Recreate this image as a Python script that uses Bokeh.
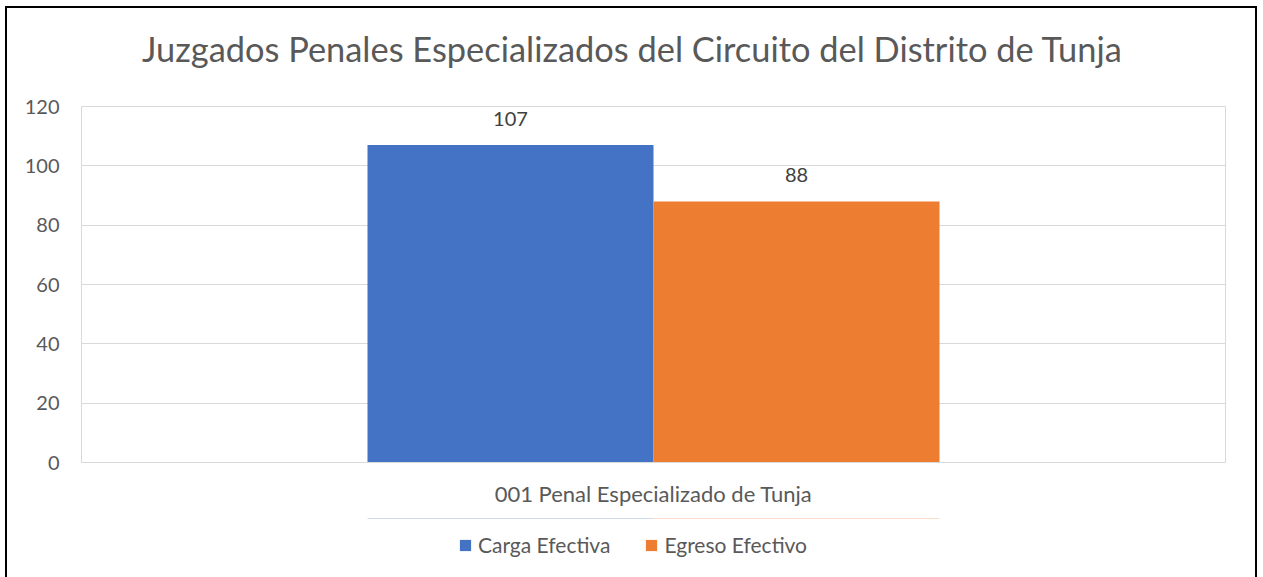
from bokeh.plotting import figure
from bokeh.models import (ColumnDataSource, FactorRange, Range1d, Legend, LegendItem, FixedTicker,
                          Label)
from bokeh.core.properties import value
from bokeh.layouts import column
from bokeh.transform import dodge
from bokeh.embed import file_html
from bokeh.resources import INLINE

title_text = "Juzgados Penales Especializados del Circuito del Distrito de Tunja"
categories = ["001 Penal Especializado de Tunja"]
carga = [107]
egreso = [88]
series_names = ["Carga Efectiva", "Egreso Efectivo"]
colors = ["#4472C4", "#ED7D31"]
y_ticks = [0, 20, 40, 60, 80, 100, 120]

FONT = "Lato"
TXT = "#595959"
W = 1248
TH = 86  # title strip height

src = ColumnDataSource(dict(cat=categories, carga=carga, egreso=egreso,
                            carga_lbl=[str(v) for v in carga],
                            egreso_lbl=[str(v) for v in egreso]))

# title strip
pt = figure(width=W, height=TH, x_range=Range1d(0, W), y_range=Range1d(0, TH),
            output_backend="svg", toolbar_location=None, min_border=0,
            x_axis_type=None, y_axis_type=None)
pt.grid.visible = False
pt.outline_line_color = None
pt.add_layout(Label(x=601, y=46, text=title_text, text_align="center",
                    text_baseline="alphabetic", text_font=FONT, text_font_size="34.4px",
                    text_color=TXT))

# main chart
p = figure(width=W, height=424, x_range=FactorRange(factors=categories, range_padding=0),
           y_range=Range1d(0, 120), output_backend="svg", toolbar_location=None,
           min_border_left=74, min_border_right=W - 74 - 1144, min_border_top=12, min_border_bottom=56)

r1 = p.vbar(x=dodge("cat", -0.125, range=p.x_range), top="carga", width=0.25, source=src,
            fill_color=colors[0], line_color=None)
r2 = p.vbar(x=dodge("cat", 0.125, range=p.x_range), top="egreso", width=0.25, source=src,
            fill_color=colors[1], line_color=None)

for xoff, col in ((-0.125, "carga"), (0.125, "egreso")):
    p.text(x=dodge("cat", xoff, range=p.x_range), y=col, text=col + "_lbl", source=src,
           text_align="center", text_baseline="alphabetic", y_offset=-26,
           text_font=value(FONT), text_font_size="20px", text_color="#404040")

p.yaxis.ticker = FixedTicker(ticks=y_ticks)
p.yaxis.axis_line_color = None
p.yaxis.major_tick_line_color = None
p.yaxis.minor_tick_line_color = None
p.yaxis.major_label_standoff = 16
p.yaxis.major_label_text_font = FONT
p.yaxis.major_label_text_font_size = "20px"
p.yaxis.major_label_text_color = TXT

p.xaxis.axis_line_color = "#D9D9D9"
p.xaxis.major_tick_line_color = None
p.xaxis.minor_tick_line_color = None
p.xaxis.major_label_standoff = 11
p.xaxis.major_label_text_font = FONT
p.xaxis.major_label_text_font_size = "22px"
p.xaxis.major_label_text_color = TXT

p.xgrid.grid_line_color = None
p.ygrid.grid_line_color = "#D9D9D9"
p.outline_line_color = "#D9D9D9"
p.outline_line_alpha = 1

# legend strip (real Legend; its renderers lie far outside that strip's view)
pl = figure(width=W, height=59, x_range=FactorRange(factors=categories, range_padding=0),
            y_range=Range1d(-1000, -990), output_backend="svg", toolbar_location=None,
            min_border=0, x_axis_type=None, y_axis_type=None)
pl.grid.visible = False
pl.outline_line_color = None
l1 = pl.vbar(x=dodge("cat", -0.125, range=pl.x_range), top="carga", width=0.25, source=src,
             fill_color=colors[0], line_color=None)
l2 = pl.vbar(x=dodge("cat", 0.125, range=pl.x_range), top="egreso", width=0.25, source=src,
             fill_color=colors[1], line_color=None)

legend = Legend(items=[LegendItem(label=series_names[0], renderers=[l1]),
                       LegendItem(label=series_names[1], renderers=[l2])],
                orientation="horizontal", location=(377, 20),
                label_text_font=FONT, label_text_font_size="21px", label_text_color=TXT,
                glyph_width=14, glyph_height=14, spacing=34, label_standoff=6,
                border_line_color=None, background_fill_alpha=0, margin=0, padding=0)
pl.add_layout(legend)

layout = column(pt, p, pl, margin=(6, 0, 0, 5), styles={"border": "2px solid black"})
open("out.html", "w").write(file_html(layout, INLINE))
